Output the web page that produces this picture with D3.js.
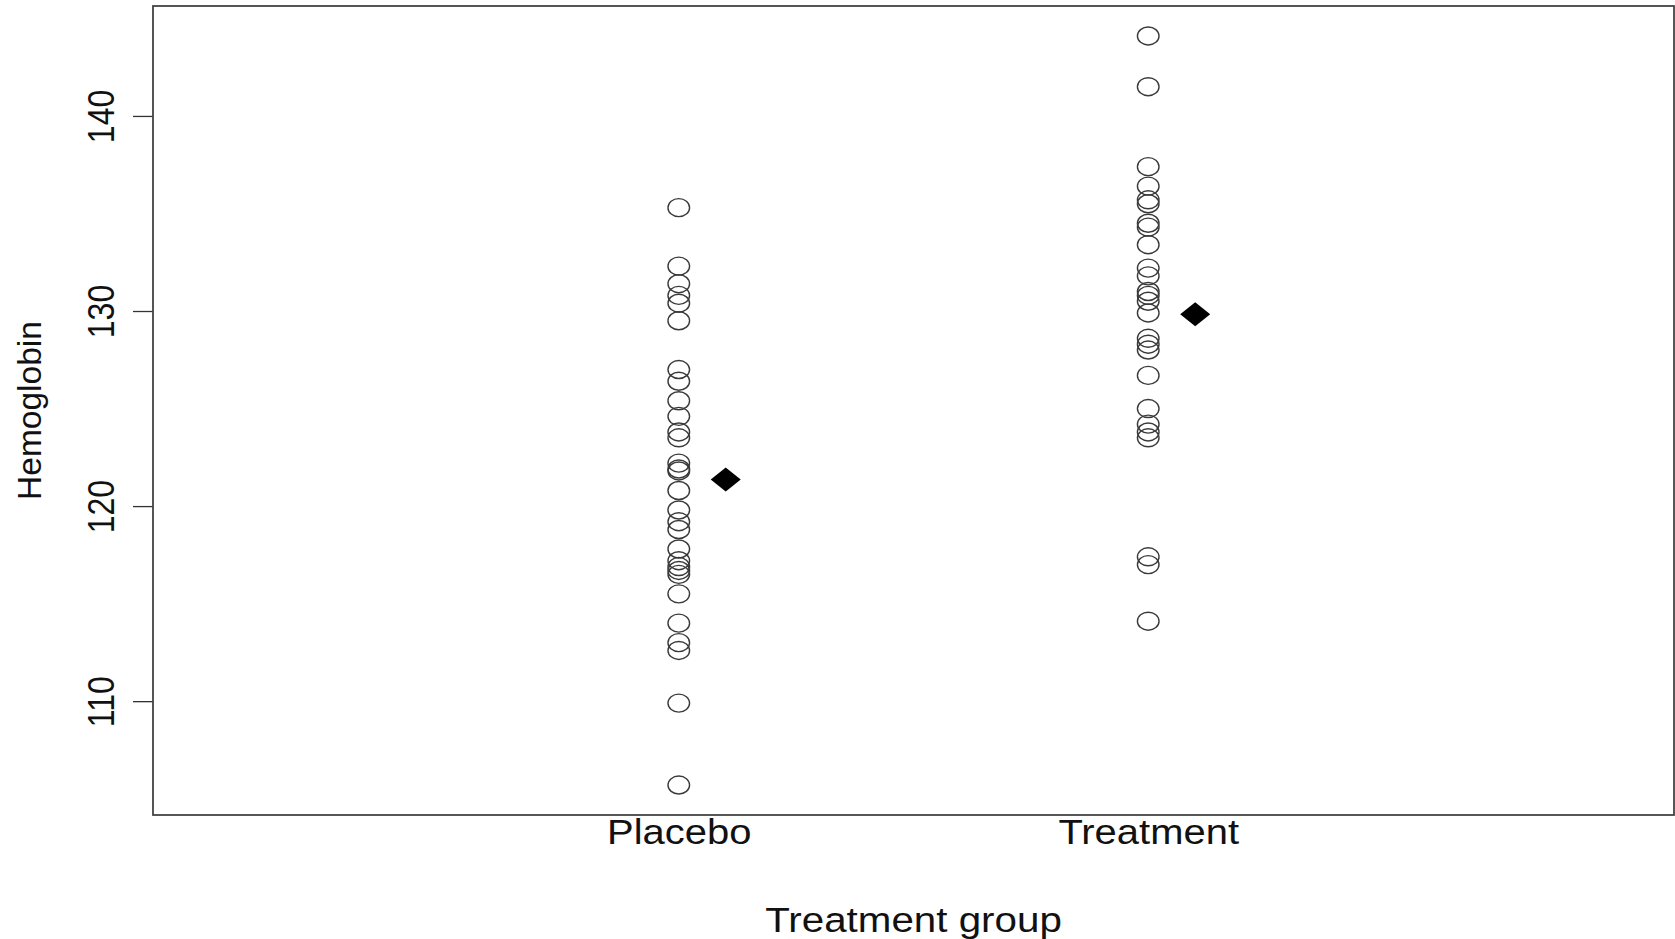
<!DOCTYPE html>
<html>
<head>
<meta charset="utf-8">
<script src="https://cdn.jsdelivr.net/npm/d3@7"></script>
<style>
  body { margin: 0; background: #fff; }
  svg text { font-family: "Liberation Sans", Arial, sans-serif; fill: #111; }
</style>
</head>
<body>
<script>
// data
const groups = ["Placebo", "Treatment"];
const placebo = [135.3, 132.3, 131.4, 130.8, 130.4, 129.5, 127.0, 126.4, 125.4, 124.6,
                 123.8, 123.5, 122.2, 121.9, 121.8, 120.8, 119.8, 119.2, 118.8, 117.8,
                 117.2, 116.9, 116.7, 116.5, 115.5, 114.0, 113.0, 112.6, 109.9, 105.7];
const treatment = [144.1, 141.5, 137.4, 136.4, 135.7, 135.5, 134.5, 134.3, 133.4, 132.2,
                   131.8, 131.0, 130.8, 130.5, 129.9, 128.6, 128.3, 128.0, 126.7, 125.0,
                   124.2, 123.8, 123.5, 117.4, 117.0, 114.1];
const yTicks = [110, 120, 130, 140];
const xLabel = "Treatment group";
const yLabel = "Hemoglobin";

const width = 1675, height = 939;
const margin = {top: 6, right: 1, bottom: 124, left: 153};
const canvasWidth = width - margin.left - margin.right;
const canvasHeight = height - margin.top - margin.bottom;

let svg = d3.select("body")
            .append("svg")
            .attr("width", width)
            .attr("height", height)
            .append("g")
            .attr("transform", "translate(" + margin.left + "," + margin.top + ")");

let points = [];
groups.forEach((g, i) => {
    const vals = i === 0 ? placebo : treatment;
    vals.forEach(v => points.push({group: i + 1, value: v}));
});
let means = groups.map((g, i) => ({group: i + 1, value: d3.mean(i === 0 ? placebo : treatment)}));

// R style limits: 4% padding on each side
const pad = (lo, hi) => { const r = hi - lo; return [lo - 0.04 * r, hi + 0.04 * r]; };
let xScale = d3.scaleLinear().domain(pad(0, 3)).range([0, canvasWidth]);
let yScale = d3.scaleLinear()
    .domain(pad(d3.min(points, d => d.value), d3.max(points, d => d.value)))
    .range([canvasHeight, 0]);

// y axis ticks
let yAxis = svg.append("g")
    .call(d3.axisLeft(yScale).tickValues(yTicks).tickSize(20).tickFormat(d3.format("d")));
yAxis.select(".domain").remove();
yAxis.selectAll("line").attr("stroke", "#333").attr("stroke-width", 1.3);
yAxis.selectAll("text")
    .attr("x", null).attr("dy", null)
    .attr("text-anchor", "middle")
    .attr("transform", "translate(-39.5,0) scale(1.17,1) rotate(-90)")
    .style("font-size", "32px")
    .style("fill", "#111");

// x axis labels, no ticks
let xAxis = svg.append("g")
    .attr("transform", "translate(0," + canvasHeight + ")")
    .call(d3.axisBottom(xScale).tickValues([1, 2]).tickSize(0).tickFormat((d) => groups[d - 1]));
xAxis.select(".domain").remove();
xAxis.selectAll("text")
    .attr("y", null).attr("dy", null)
    .attr("transform", "translate(0,29) scale(1.12,1)")
    .style("font-size", "35.7px")
    .style("fill", "#111");

// frame
svg.append("rect")
    .attr("x", 0).attr("y", 0)
    .attr("width", canvasWidth).attr("height", canvasHeight)
    .attr("fill", "none")
    .attr("stroke", "#444")
    .attr("stroke-width", 1.8);

// observations as open circles
svg.selectAll(".dot")
    .data(points)
    .enter()
    .append("ellipse")
    .attr("class", "dot")
    .attr("cx", d => xScale(d.group))
    .attr("cy", d => yScale(d.value))
    .attr("rx", 10.8)
    .attr("ry", 9)
    .attr("fill", "none")
    .attr("stroke", "#3a3a3a")
    .attr("stroke-width", 1.4);

// group means as filled diamonds
svg.selectAll(".mean")
    .data(means)
    .enter()
    .append("path")
    .attr("class", "mean")
    .attr("transform", d => "translate(" + xScale(d.group + 0.1) + "," + yScale(d.value) + ")")
    .attr("d", "M0,-12L15,0L0,12L-15,0Z")
    .attr("fill", "#000");

// axis titles
svg.append("text")
    .attr("transform", "translate(" + (canvasWidth / 2) + "," + (canvasHeight + 116.5) + ") scale(1.13,1)")
    .attr("text-anchor", "middle")
    .style("font-size", "35.7px")
    .text(xLabel);

svg.append("text")
    .attr("transform", "translate(" + (41 - margin.left) + "," + (canvasHeight / 2) + ") rotate(-90)")
    .attr("text-anchor", "middle")
    .style("font-size", "33.5px")
    .text(yLabel);
</script>
</body>
</html>
